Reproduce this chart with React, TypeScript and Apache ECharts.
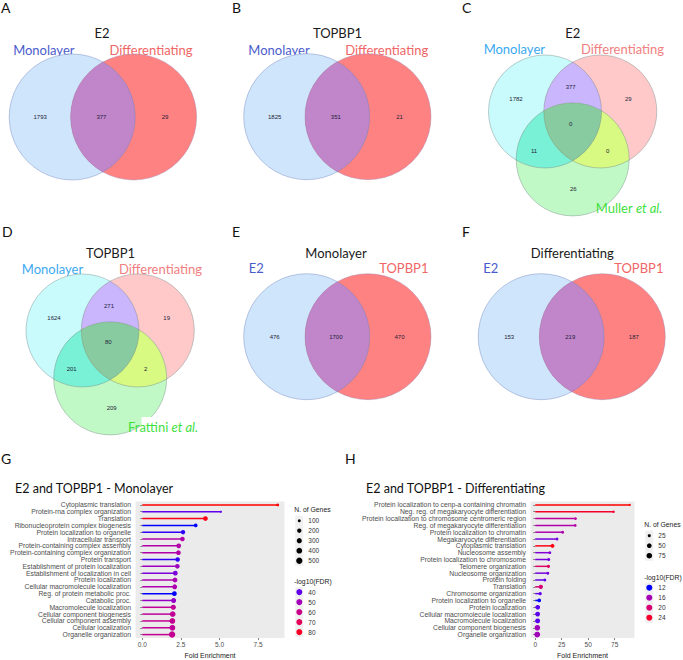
import { useEffect, useRef } from 'react';
import * as echarts from 'echarts';

// ---------- Venn counts ----------
// two-set diagrams: [left only, both, right only]
const VENN_A = [1793, 377, 29];
const VENN_B = [1825, 351, 21];
const VENN_E = [476, 1700, 470];
const VENN_F = [153, 219, 187];
// three-set diagrams: [mono only, mono∩diff, diff only, all three, mono∩ref, diff∩ref, ref only]
const VENN_C = [1782, 377, 29, 0, 11, 0, 26];
const VENN_D = [1624, 271, 19, 80, 201, 2, 209];

// ---------- GO enrichment: E2 and TOPBP1 - Monolayer ----------
const G_TERMS = [
  'Cytoplasmic translation',
  'Protein-rna complex organization',
  'Translation',
  'Ribonucleoprotein complex biogenesis',
  'Protein localization to organelle',
  'Intracellular transport',
  'Protein-containing complex assembly',
  'Protein-containing complex organization',
  'Protein transport',
  'Establishment of protein localization',
  'Establishment of localization in cell',
  'Protein localization',
  'Cellular macromolecule localization',
  'Reg. of protein metabolic proc.',
  'Catabolic proc.',
  'Macromolecule localization',
  'Cellular component biogenesis',
  'Cellular component assembly',
  'Cellular localization',
  'Organelle organization',
];
const G_FOLD = [8.77, 5.09, 4.09, 3.46, 2.64, 2.6, 2.36, 2.34, 2.29, 2.27, 2.14, 2.12, 2.1, 2.08, 2.03, 2.01, 1.97, 1.95, 1.95, 1.93];
const G_GENES = [95, 85, 240, 140, 200, 215, 240, 245, 215, 220, 250, 255, 260, 240, 280, 290, 390, 400, 410, 520];
const G_FDR = [84, 40, 82, 36, 37, 53, 53, 53, 37, 49, 43, 52, 52, 36, 47, 57, 57, 58, 57, 58];
const G_X_TICKS = [0, 2.5, 5, 7.5];
const G_SIZE_KEYS = [100, 200, 300, 400, 500];
const G_FDR_KEYS = [40, 50, 60, 70, 80];

// ---------- GO enrichment: E2 and TOPBP1 - Differentiating ----------
const H_TERMS = [
  'Protein localization to cenp-a containing chromatin',
  'Neg. reg. of megakaryocyte differentiation',
  'Protein localization to chromosome centromeric region',
  'Reg. of megakaryocyte differentiation',
  'Protein localization to chromatin',
  'Megakaryocyte differentiation',
  'Cytoplasmic translation',
  'Nucleosome assembly',
  'Protein localization to chromosome',
  'Telomere organization',
  'Nucleosome organization',
  'Protein folding',
  'Translation',
  'Chromosome organization',
  'Protein localization to organelle',
  'Protein localization',
  'Cellular macromolecule localization',
  'Macromolecule localization',
  'Cellular component biogenesis',
  'Organelle organization',
];
const H_FOLD = [89.3, 74, 38.1, 37.8, 25.9, 20.6, 16.3, 13.8, 12.8, 12.5, 11.9, 9.1, 5.3, 4.7, 3.8, 2.4, 2.3, 2.3, 2.0, 1.9];
const H_GENES = [20, 21, 22, 22, 24, 23, 37, 23, 24, 26, 24, 23, 43, 27, 32, 50, 51, 53, 74, 82];
const H_FDR = [25.5, 24, 17.5, 16.8, 16.5, 13.8, 25, 14.2, 13.8, 21, 13.8, 13.2, 20, 13.2, 12, 13, 13, 13, 15.8, 15.8];
const H_X_TICKS = [0, 25, 50, 75];
const H_SIZE_KEYS = [25, 50, 75];
const H_FDR_KEYS = [12, 16, 20, 24];

// ---------- styling ----------
const SANS = '"Liberation Sans", Arial, sans-serif';
const TITLE_FONT = 'Lato, "Open Sans", sans-serif';
const BLUE_LABEL = '#4a5ccc';
const RED_LABEL = '#f06666';

// ---------- colour helpers (Lab interpolation, blue -> red) ----------
type RGB = [number, number, number];
const toLin = (c: number) => {
  const v = c / 255;
  return v <= 0.04045 ? v / 12.92 : Math.pow((v + 0.055) / 1.055, 2.4);
};
const fromLin = (c: number) => {
  const v = c <= 0.0031308 ? 12.92 * c : 1.055 * Math.pow(c, 1 / 2.4) - 0.055;
  return Math.round(Math.max(0, Math.min(1, v)) * 255);
};
const XN = 0.95047;
const ZN = 1.08883;
function rgbToLab([r, g, b]: RGB): RGB {
  const R = toLin(r), G = toLin(g), B = toLin(b);
  const X = 0.4124 * R + 0.3576 * G + 0.1805 * B;
  const Y = 0.2126 * R + 0.7152 * G + 0.0722 * B;
  const Z = 0.0193 * R + 0.1192 * G + 0.9505 * B;
  const f = (t: number) => (t > 0.008856 ? Math.cbrt(t) : 7.787 * t + 16 / 116);
  const fx = f(X / XN), fy = f(Y), fz = f(Z / ZN);
  return [116 * fy - 16, 500 * (fx - fy), 200 * (fy - fz)];
}
function labToHex([L, a, b]: RGB): string {
  const fy = (L + 16) / 116;
  const fx = fy + a / 500;
  const fz = fy - b / 200;
  const inv = (t: number) => (t * t * t > 0.008856 ? t * t * t : (t - 16 / 116) / 7.787);
  const X = XN * inv(fx), Y = inv(fy), Z = ZN * inv(fz);
  const R = 3.2406 * X - 1.5372 * Y - 0.4986 * Z;
  const G = -0.9689 * X + 1.8758 * Y + 0.0415 * Z;
  const B = 0.0557 * X - 0.204 * Y + 1.057 * Z;
  const h = (v: number) => fromLin(v).toString(16).padStart(2, '0');
  return '#' + h(R) + h(G) + h(B);
}
const LAB_LOW = rgbToLab([0, 0, 255]);
const LAB_HIGH = rgbToLab([255, 0, 0]);
function gradient(v: number, lo: number, hi: number): string {
  const t = Math.max(0, Math.min(1, (v - lo) / (hi - lo)));
  return labToHex([
    LAB_LOW[0] + (LAB_HIGH[0] - LAB_LOW[0]) * t,
    LAB_LOW[1] + (LAB_HIGH[1] - LAB_LOW[1]) * t,
    LAB_LOW[2] + (LAB_HIGH[2] - LAB_LOW[2]) * t,
  ]);
}
function sizeScale(n: number, lo: number, hi: number, dMin: number, dMax: number) {
  const t = Math.max(0, Math.min(1, (n - lo) / (hi - lo)));
  return dMin + (dMax - dMin) * Math.sqrt(t);
}

// ---------- Venn geometry ----------
type Pt = [number, number];
function intersections(c1: Pt, c2: Pt, r: number): [Pt, Pt] {
  const dx = c2[0] - c1[0], dy = c2[1] - c1[1];
  const d = Math.hypot(dx, dy);
  const h = Math.sqrt(r * r - (d / 2) * (d / 2));
  const mx = c1[0] + dx / 2, my = c1[1] + dy / 2;
  return [
    [mx - (h * dy) / d, my + (h * dx) / d],
    [mx + (h * dy) / d, my - (h * dx) / d],
  ];
}
function arcTo(p: Pt, q: Pt, o: Pt, r: number) {
  const cross = (p[0] - o[0]) * (q[1] - o[1]) - (p[1] - o[1]) * (q[0] - o[0]);
  return `A ${r} ${r} 0 0 ${cross > 0 ? 1 : 0} ${q[0].toFixed(2)} ${q[1].toFixed(2)}`;
}
function lensPath(c1: Pt, c2: Pt, r: number) {
  const [i1, i2] = intersections(c1, c2, r);
  return `M ${i1[0].toFixed(2)} ${i1[1].toFixed(2)} ${arcTo(i1, i2, c1, r)} ${arcTo(i2, i1, c2, r)} Z`;
}
function triplePath(a: Pt, b: Pt, c: Pt, r: number) {
  const pick = (c1: Pt, c2: Pt, other: Pt) =>
    intersections(c1, c2, r).find((p) => Math.hypot(p[0] - other[0], p[1] - other[1]) < r) as Pt;
  const pAB = pick(a, b, c), pAC = pick(a, c, b), pBC = pick(b, c, a);
  return `M ${pAB[0].toFixed(2)} ${pAB[1].toFixed(2)} ${arcTo(pAB, pAC, a, r)} ${arcTo(pAC, pBC, c, r)} ${arcTo(pBC, pAB, b, r)} Z`;
}

const R2 = 63;
const R3 = 56.5;
const TWO_SET = [
  { id: 'A', counts: VENN_A, left: [72.2, 117] as Pt, right: [133.6, 117] as Pt },
  { id: 'B', counts: VENN_B, left: [306.7, 116.7] as Pt, right: [368, 116.7] as Pt },
  { id: 'E', counts: VENN_E, left: [306.7, 336.7] as Pt, right: [368, 336.7] as Pt },
  { id: 'F', counts: VENN_F, left: [541.2, 336.7] as Pt, right: [602.3, 336.7] as Pt },
];
const THREE_SET = [
  {
    id: 'C', counts: VENN_C,
    a: [545, 111.5] as Pt, b: [600.3, 111.5] as Pt, c: [572.7, 159.4] as Pt,
    spots: [[516, 99.3], [570.7, 87.3], [628.3, 99.3], [570.7, 124], [534, 150.7], [607.7, 150.7], [573.3, 189.3]] as Pt[],
  },
  {
    id: 'D', counts: VENN_D,
    a: [82.5, 330.5] as Pt, b: [137.8, 330.5] as Pt, c: [110.2, 378.4] as Pt,
    spots: [[54, 317.7], [109, 306], [166.7, 317.7], [108.3, 342], [71.7, 369.3], [145.7, 369.3], [111.7, 407.7]] as Pt[],
  },
];

// register the overlap shapes once
TWO_SET.forEach((v) => {
  echarts.graphic.registerShape(`lens${v.id}`, echarts.graphic.extendPath(lensPath(v.left, v.right, R2), {}) as any);
});
THREE_SET.forEach((v) => {
  echarts.graphic.registerShape(`lens${v.id}ab`, echarts.graphic.extendPath(lensPath(v.a, v.b, R3), {}) as any);
  echarts.graphic.registerShape(`lens${v.id}ac`, echarts.graphic.extendPath(lensPath(v.a, v.c, R3), {}) as any);
  echarts.graphic.registerShape(`lens${v.id}bc`, echarts.graphic.extendPath(lensPath(v.b, v.c, R3), {}) as any);
  echarts.graphic.registerShape(`tri${v.id}`, echarts.graphic.extendPath(triplePath(v.a, v.b, v.c, R3), {}) as any);
});

function txt(x: number, y: number, text: string, fontSize: number, fill: string, font = TITLE_FONT, align = 'center', extra: any = {}) {
  return {
    type: 'text',
    x, y,
    silent: true,
    style: {
      text, fill, fontSize, fontFamily: font,
      align, verticalAlign: 'middle', textAlign: align, textVerticalAlign: 'middle',
      ...extra,
    },
  };
}
function circle(c: Pt, r: number, fill: string, stroke = 'none', lineWidth = 0) {
  return { type: 'circle', silent: true, shape: { cx: c[0], cy: c[1], r }, style: { fill, stroke, lineWidth } };
}
function countLabel(p: Pt, n: number) {
  return txt(p[0], p[1], String(n), 6, '#1d1d38', SANS);
}

function buildGraphics() {
  const els: any[] = [];

  // panel letters
  const letters: [string, number, number][] = [
    ['A', 1, 7], ['B', 232, 7], ['C', 462, 7], ['D', 2, 231.5], ['E', 232, 231.5], ['F', 462, 231.5], ['G', 1, 458], ['H', 345, 458],
  ];
  letters.forEach(([l, x, y]) => els.push(txt(x, y, l, 14, '#111', TITLE_FONT, 'left')));

  // two-set diagrams
  const twoTitles: Record<string, [string, number, number, string, number, string, number, number]> = {
    A: ['E2', 102, 33, 'Monolayer', 43.8, 'Differentiating', 151, 49.5],
    B: ['TOPBP1', 337.5, 33, 'Monolayer', 279, 'Differentiating', 386.7, 49.5],
    E: ['Monolayer', 336, 253, 'E2', 256.3, 'TOPBP1', 403.8, 268.3],
    F: ['Differentiating', 572.3, 253, 'E2', 490.8, 'TOPBP1', 638.8, 268.3],
  };
  TWO_SET.forEach((v) => {
    const [title, tx, ty, ln, lx, rn, rx, ly] = twoTitles[v.id];
    els.push(txt(tx, ty, title, 13, '#1a1a1a'));
    els.push(txt(lx, ly, ln, 13, BLUE_LABEL));
    els.push(txt(rx, ly, rn, 13, RED_LABEL));
    els.push(circle(v.left, R2, '#cfe5fb'));
    els.push(circle(v.right, R2, '#ff8282'));
    els.push({ type: `lens${v.id}`, silent: true, style: { fill: '#c086c9', stroke: 'none' } });
    els.push(circle(v.left, R2, 'none', 'rgba(110,130,190,0.55)', 0.8));
    els.push(circle(v.right, R2, 'none', 'rgba(140,120,170,0.45)', 0.8));
    const my = v.left[1];
    els.push(countLabel([v.left[0] - 32, my], v.counts[0]));
    els.push(countLabel([(v.left[0] + v.right[0]) / 2 - 1.5, my], v.counts[1]));
    els.push(countLabel([v.right[0] + 31.5, my], v.counts[2]));
  });

  // three-set diagrams
  const threeTitles: Record<string, [string, number, number, number, number, number]> = {
    C: ['E2', 572.7, 33, 514.3, 622.5, 49],
    D: ['TOPBP1', 110.5, 252.5, 52.5, 160.5, 268.5],
  };
  THREE_SET.forEach((v) => {
    const [title, tx, ty, lx, rx, ly] = threeTitles[v.id];
    els.push(txt(tx, ty, title, 13, '#1a1a1a'));
    els.push(txt(lx, ly, 'Monolayer', 13, '#3ba9f0'));
    els.push(txt(rx, ly, 'Differentiating', 13, '#f08080'));
    els.push(circle(v.a, R3, '#c9fbfc'));
    els.push(circle(v.b, R3, '#ffc9c9'));
    els.push(circle(v.c, R3, '#c1f9c6'));
    els.push({ type: `lens${v.id}ab`, silent: true, style: { fill: '#c9b6fd', stroke: 'none' } });
    els.push({ type: `lens${v.id}ac`, silent: true, style: { fill: '#79f1d6', stroke: 'none' } });
    els.push({ type: `lens${v.id}bc`, silent: true, style: { fill: '#d8f982', stroke: 'none' } });
    els.push({ type: `tri${v.id}`, silent: true, style: { fill: '#89cba1', stroke: 'none' } });
    [v.a, v.b, v.c].forEach((c) => els.push(circle(c, R3, 'none', 'rgba(110,130,130,0.5)', 0.8)));
    v.spots.forEach((p, i) => els.push(countLabel(p, v.counts[i])));
  });

  // reference-set labels
  els.push({ type: 'rect', silent: true, shape: { x: 141.5, y: 417, width: 60, height: 22 }, style: { fill: '#ffffff' } });
  const refLabel = (x: number, y: number, name: string) => ({
    type: 'text', x, y, silent: true,
    style: {
      text: `{n|${name} }{i|et al.}`,
      align: 'center', verticalAlign: 'middle', textAlign: 'center', textVerticalAlign: 'middle',
      rich: {
        n: { fontSize: 13, fontFamily: TITLE_FONT, fill: '#3fe03f' },
        i: { fontSize: 13, fontFamily: TITLE_FONT, fontStyle: 'italic', fill: '#3fe03f' },
      },
    },
  });
  els.push(refLabel(629, 208.3, 'Muller'));
  els.push(refLabel(163, 427.3, 'Frattini'));

  // enrichment chart titles
  els.push(txt(15, 488, 'E2 and TOPBP1 - Monolayer', 12.5, '#111', TITLE_FONT, 'left'));
  els.push(txt(366, 488, 'E2 and TOPBP1 - Differentiating', 12.5, '#111', TITLE_FONT, 'left'));

  // legends
  const legend = (
    x: number, sizeTitleY: number, sizeKeys: number[], sizeFn: (n: number) => number,
    colorTitleY: number, colorKeys: number[], colorFn: (v: number) => string,
  ) => {
    const dotX = x + 5;
    const labX = x + 14;
    els.push(txt(x, sizeTitleY, 'N. of Genes', 6.8, '#1a1a1a', SANS, 'left'));
    const sy0 = sizeTitleY + 11.4;
    els.push({ type: 'rect', silent: true, shape: { x: dotX - 4, y: sy0 - 5, width: 8, height: sizeKeys.length * 10 }, style: { fill: '#f0f0f0' } });
    sizeKeys.forEach((k, i) => {
      const y = sy0 + i * 10;
      els.push(circle([dotX, y], sizeFn(k) / 2, '#000'));
      els.push(txt(labX, y, String(k), 6.5, '#333', SANS, 'left'));
    });
    els.push(txt(x, colorTitleY, '-log10(FDR)', 6.8, '#1a1a1a', SANS, 'left'));
    const cy0 = colorTitleY + 10.4;
    els.push({ type: 'rect', silent: true, shape: { x: dotX - 4, y: cy0 - 5, width: 8, height: colorKeys.length * 10 }, style: { fill: '#f0f0f0' } });
    colorKeys.forEach((k, i) => {
      const y = cy0 + i * 10;
      els.push(circle([dotX, y], 3, colorFn(k)));
      els.push(txt(labX, y, String(k), 6.5, '#333', SANS, 'left'));
    });
  };
  legend(294.3, 509.3, G_SIZE_KEYS, gSize, 581.7, G_FDR_KEYS, gColor);
  legend(644.3, 524.3, H_SIZE_KEYS, hSize, 577.3, H_FDR_KEYS, hColor);

  return els;
}

const gFdrLo = Math.min(...G_FDR), gFdrHi = Math.max(...G_FDR);
const hFdrLo = Math.min(...H_FDR), hFdrHi = Math.max(...H_FDR);
const gGeneLo = Math.min(...G_GENES), gGeneHi = Math.max(...G_GENES);
const hGeneLo = Math.min(...H_GENES), hGeneHi = Math.max(...H_GENES);
function gColor(v: number) { return gradient(v, gFdrLo, gFdrHi); }
function hColor(v: number) { return gradient(v, hFdrLo, hFdrHi); }
function gSize(n: number) { return sizeScale(n, gGeneLo, gGeneHi, 2.2, 6.4); }
function hSize(n: number) { return sizeScale(n, hGeneLo, hGeneHi, 2.0, 5.8); }

function valueAxis(gridIndex: number, fold: number[], ticks: number[], fmt: (v: number) => string) {
  const hi = Math.max(...fold);
  const pad = hi * 0.05;
  return {
    type: 'value', gridIndex,
    min: -pad, max: hi + pad,
    axisLine: { show: false },
    splitLine: { show: false },
    axisTick: { show: true, length: 2, customValues: ticks, lineStyle: { color: '#333', width: 0.6 } },
    axisLabel: { customValues: ticks, formatter: fmt, fontSize: 6.5, color: '#4d4d4d', fontFamily: SANS, margin: 2.5 },
    name: 'Fold Enrichment', nameLocation: 'middle', nameGap: 14,
    nameTextStyle: { fontSize: 7, color: '#1a1a1a', fontFamily: SANS },
  };
}
function categoryAxis(gridIndex: number, terms: string[]) {
  return {
    type: 'category', gridIndex, data: terms, inverse: true,
    axisLine: { show: false },
    axisTick: { show: true, length: 2, alignWithLabel: true, lineStyle: { color: '#333', width: 0.6 } },
    axisLabel: { interval: 0, fontSize: 6.8, color: '#4d4d4d', fontFamily: SANS, margin: 4.5 },
    splitLine: { show: false },
  };
}
function lollipop(idx: number, fold: number[], fdr: number[], genes: number[], colorFn: (v: number) => string, sizeFn: (n: number) => number) {
  return [
    {
      type: 'bar', xAxisIndex: idx, yAxisIndex: idx, silent: true, barWidth: 1.5,
      data: fold.map((v, i) => ({ value: v, itemStyle: { color: colorFn(fdr[i]) } })),
    },
    {
      type: 'scatter', xAxisIndex: idx, yAxisIndex: idx, silent: true,
      data: fold.map((v, i) => ({ value: [v, i], symbolSize: sizeFn(genes[i]), itemStyle: { color: colorFn(fdr[i]), opacity: 1 } })),
    },
  ];
}

export default function App() {
  const ref = useRef<HTMLDivElement>(null);
  useEffect(() => {
    if (!ref.current) return;
    const chart = echarts.init(ref.current, undefined, { renderer: 'svg' });
    chart.setOption({
      animation: false,
      backgroundColor: '#ffffff',
      grid: [
        { left: 135.5, top: 501.5, width: 149, height: 141, show: true, backgroundColor: '#ebebeb', borderWidth: 0 },
        { left: 530.5, top: 501.5, width: 104, height: 141, show: true, backgroundColor: '#ebebeb', borderWidth: 0 },
      ],
      xAxis: [
        valueAxis(0, G_FOLD, G_X_TICKS, (v: number) => v.toFixed(1)),
        valueAxis(1, H_FOLD, H_X_TICKS, (v: number) => String(v)),
      ],
      yAxis: [categoryAxis(0, G_TERMS), categoryAxis(1, H_TERMS)],
      series: [
        ...lollipop(0, G_FOLD, G_FDR, G_GENES, gColor, gSize),
        ...lollipop(1, H_FOLD, H_FDR, H_GENES, hColor, hSize),
      ],
      graphic: { elements: buildGraphics() },
    });
    return () => chart.dispose();
  }, []);
  return <div ref={ref} style={{ position: 'absolute', left: 0, top: 0, width: 683, height: 660 }} />;
}
